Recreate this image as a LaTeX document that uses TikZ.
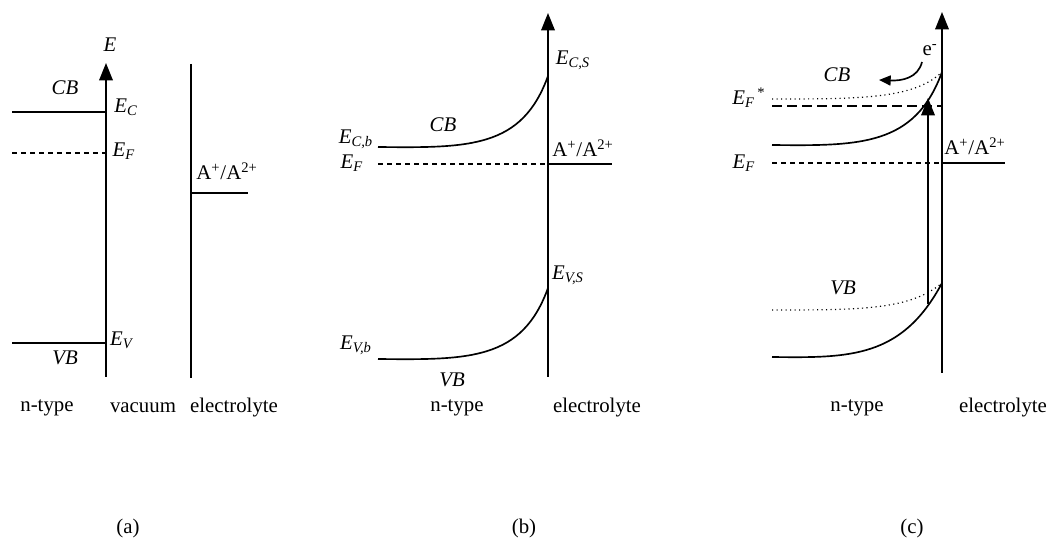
\documentclass[tikz,border=0pt]{standalone}
\usepackage{fontspec}
\setmainfont{Liberation Serif}
\usetikzlibrary{arrows.meta}
\newcommand{\lev}[1]{\textit{E}\textsubscript{\textit{#1}}}
\newcommand{\redox}{A\textsuperscript{+}/A\textsuperscript{2+}}

\begin{document}
\begin{tikzpicture}[x=0.6pt, y=-0.6pt, line width=1pt,
    font=\fontsize{12.5}{15}\selectfont,
    axis/.style={-{Triangle[length=10.5pt,width=8.2pt]}},
    fermi/.style={dash pattern=on 3pt off 2.4pt},
    quasi/.style={dash pattern=on 6pt off 3pt},
    shifted/.style={dotted, line width=0.7pt}]
    \useasboundingbox (0,0) rectangle (1052,549);
    % (a) flat bands, vacuum gap
    \draw
        (106, 377) coordinate (a0)
        (106, 63) coordinate (a1)
        (12, 112) coordinate (aC)
        (12, 153) coordinate (aF)
        (12, 343) coordinate (aV)
        (191, 64) coordinate (e0)
        (191, 378) coordinate (e1)
        (248, 193) coordinate (aR);
    \draw[axis] (a0) to (a1);
    \draw (aC) to (aC -| a0);
    \draw[fermi] (aF) to (aF -| a0);
    \draw (aV) to (aV -| a0);
    \draw (e0) to (e1);
    \draw (aR -| e0) to (aR);
    \draw
        (110, 45) node (aE){\textit{E}}
        (65, 88) node (aCB){\textit{CB}}
        (126, 107) node (aEC){\lev{C}}
        (124, 151) node (aEF){\lev{F}}
        (122, 340) node (aEV){\lev{V}}
        (65, 358) node (aVB){\textit{VB}}
        (227, 171) node (aA){\redox}
        (47, 408) node (an){n-type}
        (143, 408) node (avac){vacuum}
        (234, 408) node (ael){electrolyte}
        (128, 528) node (acap){(a)};
    % (b) in contact, bands bent
    \draw
        (548, 377) coordinate (b0)
        (548, 13) coordinate (b1)
        (378, 147) coordinate (bCb)
        (548, 76) coordinate (bCs)
        (378, 164) coordinate (bF)
        (612, 164) coordinate (bR)
        (378, 359) coordinate (bVb)
        (548, 288) coordinate (bVs);
    \draw[axis] (b0) to (b1);
    \draw (bCb) .. controls (470,148) and (522,148) .. (bCs);
    \draw (bVb) .. controls (470,360) and (522,360) .. (bVs);
    \draw[fermi] (bF) to (bF -| b0);
    \draw (bF -| b0) to (bR);
    \draw
        (573, 60) node (bECs){\lev{C,S}}
        (443, 125) node (bCB){\textit{CB}}
        (356, 139) node (bECb){\lev{C,b}}
        (352, 163) node (bEF){\lev{F}}
        (583, 148) node (bA){\redox}
        (568, 275) node (bEVs){\lev{V,S}}
        (356, 345) node (bEVb){\lev{V,b}}
        (452, 380) node (bVB){\textit{VB}}
        (457, 408) node (bn){n-type}
        (597, 408) node (bel){electrolyte}
        (524, 528) node (bcap){(b)};
    % (c) under illumination
    \draw
        (942, 373) coordinate (c0)
        (942, 12) coordinate (c1)
        (772, 145) coordinate (cCb)
        (772, 99) coordinate (cCd)
        (942, 72) coordinate (cCs)
        (772, 106) coordinate (cQ)
        (772, 163) coordinate (cF)
        (1005, 163) coordinate (cR)
        (772, 357) coordinate (cVb)
        (772, 310) coordinate (cVd)
        (942, 283) coordinate (cVs)
        (928, 304) coordinate (h0)
        (928, 98) coordinate (h1)
        (922, 62) coordinate (el0)
        (879, 80) coordinate (el1);
    \draw[axis] (c0) to (c1);
    \draw (cCb) .. controls (860,146) and (915,146) .. (cCs);
    \draw[shifted] (cCd) .. controls (860,99) and (914,99) .. (cCs);
    \draw (cVb) .. controls (850,358) and (902,358) .. (cVs);
    \draw[shifted] (cVd) .. controls (860,310) and (910,310) .. (cVs);
    \draw[quasi] (cQ) to (cQ -| c0);
    \draw[fermi] (cF) to (cF -| c0);
    \draw (cF -| c0) to (cR);
    \draw[axis] (h0) to (h1);
    \draw[-{Triangle[length=7pt,width=6pt]}] (el0) .. controls (918,78) and (902,81) .. (el1);
    \draw
        (930, 50) node (ce){e\textsuperscript{-}}
        (837, 75) node (cCB){\textit{CB}}
        (749, 98) node (cEFq){\lev{F}\textsuperscript{\,*}}
        (744, 163) node (cEF){\lev{F}}
        (975, 146) node (cA){\redox}
        (843, 288) node (cVB){\textit{VB}}
        (857, 408) node (cn){n-type}
        (1003, 408) node (cel){electrolyte}
        (912, 528) node (ccap){(c)};
\end{tikzpicture}
\end{document}
